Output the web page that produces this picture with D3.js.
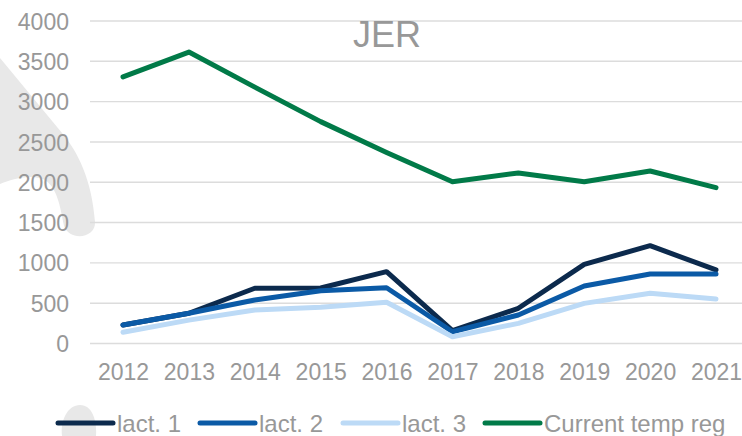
<!DOCTYPE html>
<html>
<head>
<meta charset="utf-8">
<script src="https://cdn.jsdelivr.net/npm/d3@7"></script>
<style>
  html, body { margin: 0; padding: 0; background: #fff; }
  svg { display: block; font-family: "Liberation Sans", Arial, sans-serif; }
</style>
</head>
<body>
<svg id="chart" width="742" height="436"></svg>
<script>
const years = ["2012","2013","2014","2015","2016","2017","2018","2019","2020","2021"];
const lact1 = [230, 375, 685, 688, 891, 160, 437, 982, 1213, 912];
const lact2 = [230, 375, 540, 655, 692, 146, 354, 713, 862, 862];
const lact3 = [139, 290, 415, 449, 511, 84, 250, 498, 623, 552];
const currentTempReg = [3306, 3615, 3180, 2752, 2370, 2007, 2115, 2007, 2140, 1933];
const yTicks = [0, 500, 1000, 1500, 2000, 2500, 3000, 3500, 4000];
const seriesNames = ["lact. 1", "lact. 2", "lact. 3", "Current temp reg"];
const seriesColors = ["#0c2a4d", "#0b5aa6", "#bcdaf6", "#017a48"];
const title = "JER";

const series = [lact1, lact2, lact3, currentTempReg].map((v, i) => ({name: seriesNames[i], color: seriesColors[i], values: v}));

const svg = d3.select("#chart");
const x = d3.scalePoint().domain(years).range([123, 716]);
const y = d3.scaleLinear().domain([0, 4000]).range([343.5, 21]);

// faded watermark shapes
svg.append("path")
  .attr("d", "M0,58 L62,133 C78,152 92,180 95,222 C96,238 70,242 64,226 C60,205 57,188 45,180 C32,174 15,178 0,184 Z")
  .attr("fill", "#e8e8e8");
svg.append("path")
  .attr("d", "M62,436 C60,420 68,405 80,405 C92,405 97,420 96,436 Z")
  .attr("fill", "#e8e8e8");

// gridlines
svg.append("g")
  .selectAll("line").data(yTicks).join("line")
  .attr("x1", 90).attr("x2", 750)
  .attr("y1", d => y(d)).attr("y2", d => y(d))
  .attr("stroke", "#dcdcdc").attr("stroke-width", 1.4);

// y axis labels
const yAxis = d3.axisLeft(y).tickValues(yTicks).tickSize(0).tickPadding(0).tickFormat(d3.format("d"));
const gy = svg.append("g").attr("transform", "translate(69,0)").call(yAxis);
gy.select(".domain").remove();
gy.selectAll("text").attr("font-size", 23).attr("fill", "#989898")
  .attr("font-family", "Liberation Sans, Arial, sans-serif").attr("dy", "0.35em");

// x axis labels
const xAxis = d3.axisBottom(x).tickSize(0).tickPadding(0);
const gx = svg.append("g").call(xAxis);
gx.select(".domain").remove();
gx.selectAll("text").attr("font-size", 23).attr("fill", "#989898")
  .attr("font-family", "Liberation Sans, Arial, sans-serif").attr("y", 380).attr("dy", 0);

// lines
const line = d3.line().x((d, i) => x(years[i])).y(d => y(d));
svg.append("g").selectAll("path").data(series).join("path")
  .attr("d", d => line(d.values))
  .attr("fill", "none").attr("stroke", d => d.color)
  .attr("stroke-width", 5).attr("stroke-linejoin", "round").attr("stroke-linecap", "round");

// title
svg.append("text").attr("x", 387).attr("y", 47).attr("text-anchor", "middle")
  .attr("font-size", 36).attr("fill", "#989898").text(title);

// legend
const legendX = [58, 200, 343, 485];
const lg = svg.append("g").selectAll("g").data(series).join("g")
  .attr("transform", (d, i) => `translate(${legendX[i]},0)`);
lg.append("line").attr("x1", 0).attr("x2", 55).attr("y1", 423).attr("y2", 423)
  .attr("stroke", d => d.color).attr("stroke-width", 5).attr("stroke-linecap", "round");
lg.append("text").attr("x", 59).attr("y", 432).attr("font-size", 24).attr("fill", "#989898")
  .text(d => d.name);
</script>
</body>
</html>
